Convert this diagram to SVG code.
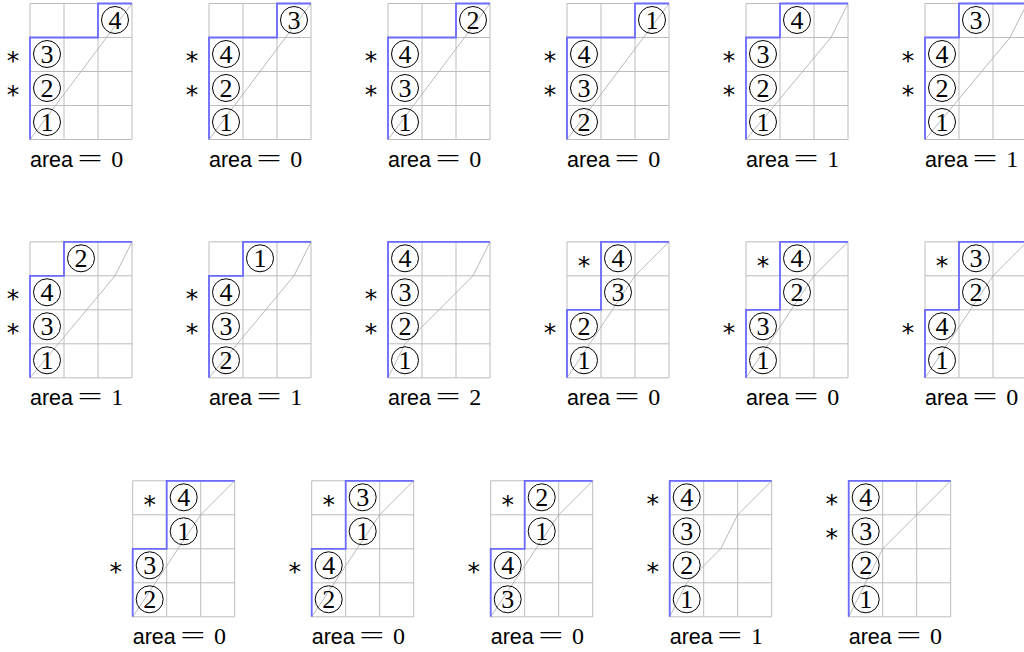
<svg xmlns="http://www.w3.org/2000/svg" xmlns:xlink="http://www.w3.org/1999/xlink" width="1024" height="652" viewBox="0 0 1024 652">
<style>
.g{stroke:#bdbdbd;stroke-width:1;fill:none}
.p{stroke:#6b6bff;stroke-width:1.8;fill:none;stroke-linejoin:miter}
.d{stroke:#a8a8a8;stroke-width:0.8;fill:none}
.c{fill:none;stroke:#000;stroke-width:1}
.n{font-family:"Liberation Serif",serif;font-size:26px;text-anchor:middle;fill:#000}
.s{font-family:"DejaVu Sans",sans-serif;font-size:25px;text-anchor:middle;fill:#000}
.a{font-family:"Liberation Sans",sans-serif;font-size:21.5px;fill:#000}
.e{font-family:"Liberation Serif",serif;font-size:26px;fill:#000}
.z{font-family:"Liberation Serif",serif;font-size:24px;text-anchor:middle;fill:#000}
</style>
<defs>
<path id="grid" class="g" d="M0,0H102M0,34H102M0,68H102M0,102H102M0,136H102M0,0V136M34,0V136M68,0V136M102,0V136"/>
<g id="n1"><circle class="c" cx="0" cy="0" r="13.5"/><text class="n" x="0" y="8.8">1</text></g>
<g id="n2"><circle class="c" cx="0" cy="0" r="13.5"/><text class="n" x="0" y="8.8">2</text></g>
<g id="n3"><circle class="c" cx="0" cy="0" r="13.5"/><text class="n" x="0" y="8.8">3</text></g>
<g id="n4"><circle class="c" cx="0" cy="0" r="13.5"/><text class="n" x="0" y="8.8">4</text></g>
</defs>

<!-- Row 1 -->
<g id="d1" transform="translate(30,3.5)">
<use href="#grid"/>
<path class="d" d="M0,136L102,0"/>
<path class="p" d="M0,136V34H68V0H102"/>
<use href="#n1" x="17" y="118.5"/><use href="#n2" x="17" y="84.5"/><use href="#n3" x="17" y="50.5"/><use href="#n4" x="85" y="16.5"/>
<text class="s" x="-17" y="99.5">*</text><text class="s" x="-17" y="65.5">*</text>
<text class="a" x="0" y="163">area</text><text class="e" x="47.5" y="163" textLength="25" lengthAdjust="spacingAndGlyphs">=</text><text class="z" x="87.2" y="163">0</text>
</g>

<g id="d2" transform="translate(209,3.5)">
<use href="#grid"/>
<path class="d" d="M0,136L102,0"/>
<path class="p" d="M0,136V34H68V0H102"/>
<use href="#n1" x="17" y="118.5"/><use href="#n2" x="17" y="84.5"/><use href="#n4" x="17" y="50.5"/><use href="#n3" x="85" y="16.5"/>
<text class="s" x="-17" y="99.5">*</text><text class="s" x="-17" y="65.5">*</text>
<text class="a" x="0" y="163">area</text><text class="e" x="47.5" y="163" textLength="25" lengthAdjust="spacingAndGlyphs">=</text><text class="z" x="87.2" y="163">0</text>
</g>

<g id="d3" transform="translate(388,3.5)">
<use href="#grid"/>
<path class="d" d="M0,136L102,0"/>
<path class="p" d="M0,136V34H68V0H102"/>
<use href="#n1" x="17" y="118.5"/><use href="#n3" x="17" y="84.5"/><use href="#n4" x="17" y="50.5"/><use href="#n2" x="85" y="16.5"/>
<text class="s" x="-17" y="99.5">*</text><text class="s" x="-17" y="65.5">*</text>
<text class="a" x="0" y="163">area</text><text class="e" x="47.5" y="163" textLength="25" lengthAdjust="spacingAndGlyphs">=</text><text class="z" x="87.2" y="163">0</text>
</g>

<g id="d4" transform="translate(567,3.5)">
<use href="#grid"/>
<path class="d" d="M0,136L102,0"/>
<path class="p" d="M0,136V34H68V0H102"/>
<use href="#n2" x="17" y="118.5"/><use href="#n3" x="17" y="84.5"/><use href="#n4" x="17" y="50.5"/><use href="#n1" x="85" y="16.5"/>
<text class="s" x="-17" y="99.5">*</text><text class="s" x="-17" y="65.5">*</text>
<text class="a" x="0" y="163">area</text><text class="e" x="47.5" y="163" textLength="25" lengthAdjust="spacingAndGlyphs">=</text><text class="z" x="87.2" y="163">0</text>
</g>

<g id="d5" transform="translate(746,3.5)">
<use href="#grid"/>
<path class="d" d="M0,136L85,34L102,0"/>
<path class="p" d="M0,136V34H34V0H102"/>
<use href="#n1" x="17" y="118.5"/><use href="#n2" x="17" y="84.5"/><use href="#n3" x="17" y="50.5"/><use href="#n4" x="51" y="16.5"/>
<text class="s" x="-17" y="99.5">*</text><text class="s" x="-17" y="65.5">*</text>
<text class="a" x="0" y="163">area</text><text class="e" x="47.5" y="163" textLength="25" lengthAdjust="spacingAndGlyphs">=</text><text class="z" x="87.2" y="163">1</text>
</g>

<g id="d6" transform="translate(925,3.5)">
<use href="#grid"/>
<path class="d" d="M0,136L85,34L102,0"/>
<path class="p" d="M0,136V34H34V0H102"/>
<use href="#n1" x="17" y="118.5"/><use href="#n2" x="17" y="84.5"/><use href="#n4" x="17" y="50.5"/><use href="#n3" x="51" y="16.5"/>
<text class="s" x="-17" y="99.5">*</text><text class="s" x="-17" y="65.5">*</text>
<text class="a" x="0" y="163">area</text><text class="e" x="47.5" y="163" textLength="25" lengthAdjust="spacingAndGlyphs">=</text><text class="z" x="87.2" y="163">1</text>
</g>

<!-- Row 2 -->
<g id="d7" transform="translate(30,241.8)">
<use href="#grid"/>
<path class="d" d="M0,136L85,34L102,0"/>
<path class="p" d="M0,136V34H34V0H102"/>
<use href="#n1" x="17" y="118.5"/><use href="#n3" x="17" y="84.5"/><use href="#n4" x="17" y="50.5"/><use href="#n2" x="51" y="16.5"/>
<text class="s" x="-17" y="99.5">*</text><text class="s" x="-17" y="65.5">*</text>
<text class="a" x="0" y="163">area</text><text class="e" x="47.5" y="163" textLength="25" lengthAdjust="spacingAndGlyphs">=</text><text class="z" x="87.2" y="163">1</text>
</g>

<g id="d8" transform="translate(209,241.8)">
<use href="#grid"/>
<path class="d" d="M0,136L85,34L102,0"/>
<path class="p" d="M0,136V34H34V0H102"/>
<use href="#n2" x="17" y="118.5"/><use href="#n3" x="17" y="84.5"/><use href="#n4" x="17" y="50.5"/><use href="#n1" x="51" y="16.5"/>
<text class="s" x="-17" y="99.5">*</text><text class="s" x="-17" y="65.5">*</text>
<text class="a" x="0" y="163">area</text><text class="e" x="47.5" y="163" textLength="25" lengthAdjust="spacingAndGlyphs">=</text><text class="z" x="87.2" y="163">1</text>
</g>

<g id="d9" transform="translate(388,241.8)">
<use href="#grid"/>
<path class="d" d="M0,136L17,102L85,34L102,0"/>
<path class="p" d="M0,136V0H102"/>
<use href="#n1" x="17" y="118.5"/><use href="#n2" x="17" y="84.5"/><use href="#n3" x="17" y="50.5"/><use href="#n4" x="17" y="16.5"/>
<text class="s" x="-17" y="99.5">*</text><text class="s" x="-17" y="65.5">*</text>
<text class="a" x="0" y="163">area</text><text class="e" x="47.5" y="163" textLength="25" lengthAdjust="spacingAndGlyphs">=</text><text class="z" x="87.2" y="163">2</text>
</g>

<g id="d10" transform="translate(567,241.8)">
<use href="#grid"/>
<path class="d" d="M0,136L68,34L102,0"/>
<path class="p" d="M0,136V68H34V0H102"/>
<use href="#n1" x="17" y="118.5"/><use href="#n2" x="17" y="84.5"/><use href="#n3" x="51" y="50.5"/><use href="#n4" x="51" y="16.5"/>
<text class="s" x="-17" y="99.5">*</text><text class="s" x="17" y="32.5">*</text>
<text class="a" x="0" y="163">area</text><text class="e" x="47.5" y="163" textLength="25" lengthAdjust="spacingAndGlyphs">=</text><text class="z" x="87.2" y="163">0</text>
</g>

<g id="d11" transform="translate(746,241.8)">
<use href="#grid"/>
<path class="d" d="M0,136L68,34L102,0"/>
<path class="p" d="M0,136V68H34V0H102"/>
<use href="#n1" x="17" y="118.5"/><use href="#n3" x="17" y="84.5"/><use href="#n2" x="51" y="50.5"/><use href="#n4" x="51" y="16.5"/>
<text class="s" x="-17" y="99.5">*</text><text class="s" x="17" y="32.5">*</text>
<text class="a" x="0" y="163">area</text><text class="e" x="47.5" y="163" textLength="25" lengthAdjust="spacingAndGlyphs">=</text><text class="z" x="87.2" y="163">0</text>
</g>

<g id="d12" transform="translate(925,241.8)">
<use href="#grid"/>
<path class="d" d="M0,136L68,34L102,0"/>
<path class="p" d="M0,136V68H34V0H102"/>
<use href="#n1" x="17" y="118.5"/><use href="#n4" x="17" y="84.5"/><use href="#n2" x="51" y="50.5"/><use href="#n3" x="51" y="16.5"/>
<text class="s" x="-17" y="99.5">*</text><text class="s" x="17" y="32.5">*</text>
<text class="a" x="0" y="163">area</text><text class="e" x="47.5" y="163" textLength="25" lengthAdjust="spacingAndGlyphs">=</text><text class="z" x="87.2" y="163">0</text>
</g>

<!-- Row 3 -->
<g id="d13" transform="translate(132.7,480.8)">
<use href="#grid"/>
<path class="d" d="M0,136L68,34L102,0"/>
<path class="p" d="M0,136V68H34V0H102"/>
<use href="#n2" x="17" y="118.5"/><use href="#n3" x="17" y="84.5"/><use href="#n1" x="51" y="50.5"/><use href="#n4" x="51" y="16.5"/>
<text class="s" x="-17" y="99.5">*</text><text class="s" x="17" y="32.5">*</text>
<text class="a" x="0" y="163">area</text><text class="e" x="47.5" y="163" textLength="25" lengthAdjust="spacingAndGlyphs">=</text><text class="z" x="87.2" y="163">0</text>
</g>

<g id="d14" transform="translate(311.7,480.8)">
<use href="#grid"/>
<path class="d" d="M0,136L68,34L102,0"/>
<path class="p" d="M0,136V68H34V0H102"/>
<use href="#n2" x="17" y="118.5"/><use href="#n4" x="17" y="84.5"/><use href="#n1" x="51" y="50.5"/><use href="#n3" x="51" y="16.5"/>
<text class="s" x="-17" y="99.5">*</text><text class="s" x="17" y="32.5">*</text>
<text class="a" x="0" y="163">area</text><text class="e" x="47.5" y="163" textLength="25" lengthAdjust="spacingAndGlyphs">=</text><text class="z" x="87.2" y="163">0</text>
</g>

<g id="d15" transform="translate(490.7,480.8)">
<use href="#grid"/>
<path class="d" d="M0,136L68,34L102,0"/>
<path class="p" d="M0,136V68H34V0H102"/>
<use href="#n3" x="17" y="118.5"/><use href="#n4" x="17" y="84.5"/><use href="#n1" x="51" y="50.5"/><use href="#n2" x="51" y="16.5"/>
<text class="s" x="-17" y="99.5">*</text><text class="s" x="17" y="32.5">*</text>
<text class="a" x="0" y="163">area</text><text class="e" x="47.5" y="163" textLength="25" lengthAdjust="spacingAndGlyphs">=</text><text class="z" x="87.2" y="163">0</text>
</g>

<g id="d16" transform="translate(669.7,480.8)">
<use href="#grid"/>
<path class="d" d="M0,136L17,102L51,68L68,34L102,0"/>
<path class="p" d="M0,136V0H102"/>
<use href="#n1" x="17" y="118.5"/><use href="#n2" x="17" y="84.5"/><use href="#n3" x="17" y="50.5"/><use href="#n4" x="17" y="16.5"/>
<text class="s" x="-17" y="99.5">*</text><text class="s" x="-17" y="31.5">*</text>
<text class="a" x="0" y="163">area</text><text class="e" x="47.5" y="163" textLength="25" lengthAdjust="spacingAndGlyphs">=</text><text class="z" x="87.2" y="163">1</text>
</g>

<g id="d17" transform="translate(848.7,480.8)">
<use href="#grid"/>
<path class="d" d="M0,136L34,68L102,0"/>
<path class="p" d="M0,136V0H102"/>
<use href="#n1" x="17" y="118.5"/><use href="#n2" x="17" y="84.5"/><use href="#n3" x="17" y="50.5"/><use href="#n4" x="17" y="16.5"/>
<text class="s" x="-17" y="65.5">*</text><text class="s" x="-17" y="31.5">*</text>
<text class="a" x="0" y="163">area</text><text class="e" x="47.5" y="163" textLength="25" lengthAdjust="spacingAndGlyphs">=</text><text class="z" x="87.2" y="163">0</text>
</g>

<g id="connectors"></g>
</svg>
